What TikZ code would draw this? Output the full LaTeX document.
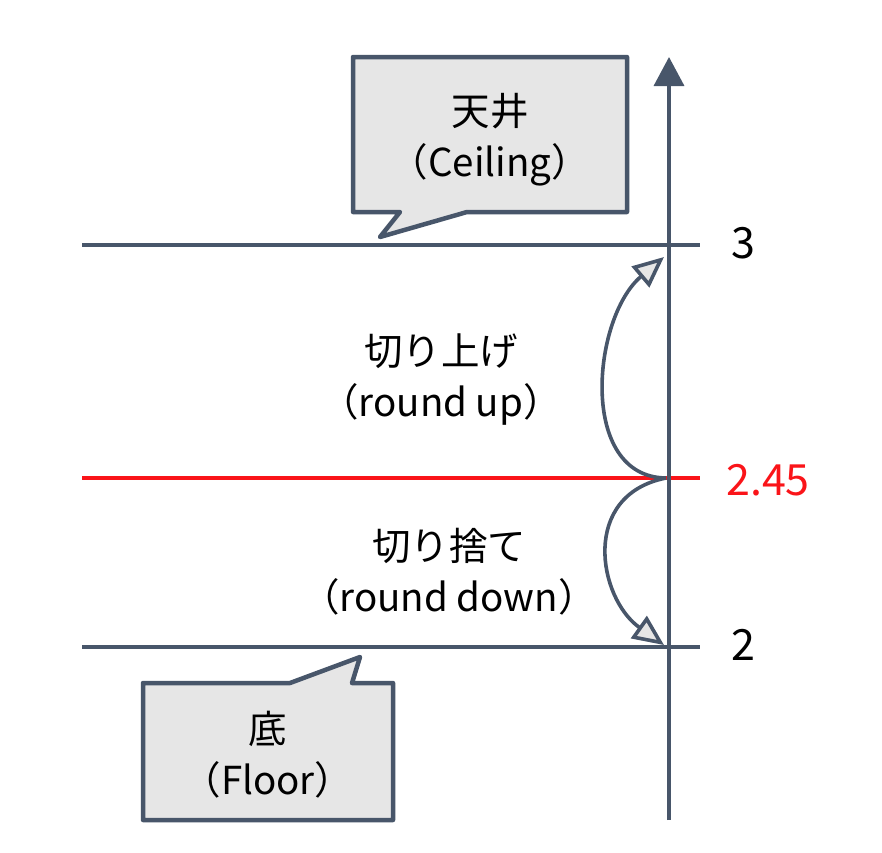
\documentclass[tikz,border=0pt]{standalone}
\usepackage{fontspec}
\newfontfamily\jp{Noto Sans CJK JP}
\usetikzlibrary{arrows.meta}
\definecolor{slate}{RGB}{72,86,106}
\definecolor{boxgray}{RGB}{230,230,230}
\definecolor{hred}{RGB}{250,20,25}
\tikzset{
  hline/.style={draw=slate, line width=3.6pt},
  callout/.style={draw=slate, fill=boxgray, line width=4.5pt, line join=round},
  lbl/.style={font=\jp\fontsize{38.5}{51}\selectfont, align=center, inner sep=0pt},
  num/.style={font=\jp\fontsize{43}{50}\selectfont, inner sep=0pt},
  curvearrow/.style={draw=slate, line width=3.6pt, -{Triangle[length=31pt,width=27pt,fill=boxgray]}},
}
\begin{document}
\begin{tikzpicture}[x=1pt,y=-1pt]
\useasboundingbox (0,0) rectangle (882,852);
% horizontal lines
\coordinate (l3a) at (82,245); \coordinate (l3b) at (700,245);
\coordinate (lra) at (82,478); \coordinate (lrb) at (700,478);
\coordinate (l2a) at (82,647); \coordinate (l2b) at (700,647);
\draw[hline] (l3a) -- (l3b);
\draw[hline, draw=hred] (lra) -- (lrb);
\draw[hline] (l2a) -- (l2b);
% axis
\coordinate (ax0) at (669,820); \coordinate (ax1) at (669,57);
\draw[draw=slate, line width=3.6pt, -{Triangle[length=29pt,width=30pt]}] (ax0) -- (ax1);
% labels on axis
\node[num] (n3) at (743,243) {3};
\node[num, text=hred] (n245) at (768,480) {2.45};
\node[num] (n2) at (743,645) {2};
% callouts
\draw[callout] (353,57) -- (627,57) -- (627,212) -- (467,212) -- (380,237) -- (400,212) -- (353,212) -- cycle;
\node[lbl] (ceil) at (490,140) {天井\\（Ceiling）};
\draw[callout] (143,683) -- (290,683) -- (360,657) -- (352,683) -- (393,683) -- (393,820) -- (143,820) -- cycle;
\node[lbl] (floor) at (268,755) {底\\（Floor）};
% middle labels
\node[lbl] (up) at (441,380) {切り上げ\\（round up）};
\node[lbl] (down) at (449,572) {切り捨て\\（round down）};
% curved arrows
\coordinate (o) at (666,478);
\coordinate (t3) at (664,257);
\coordinate (t2) at (664,645);
\draw[curvearrow] (o) .. controls (578,477) and (592,318) .. (t3);
\draw[curvearrow] (o) .. controls (580,495) and (598,598) .. (t2);
\end{tikzpicture}
\end{document}
